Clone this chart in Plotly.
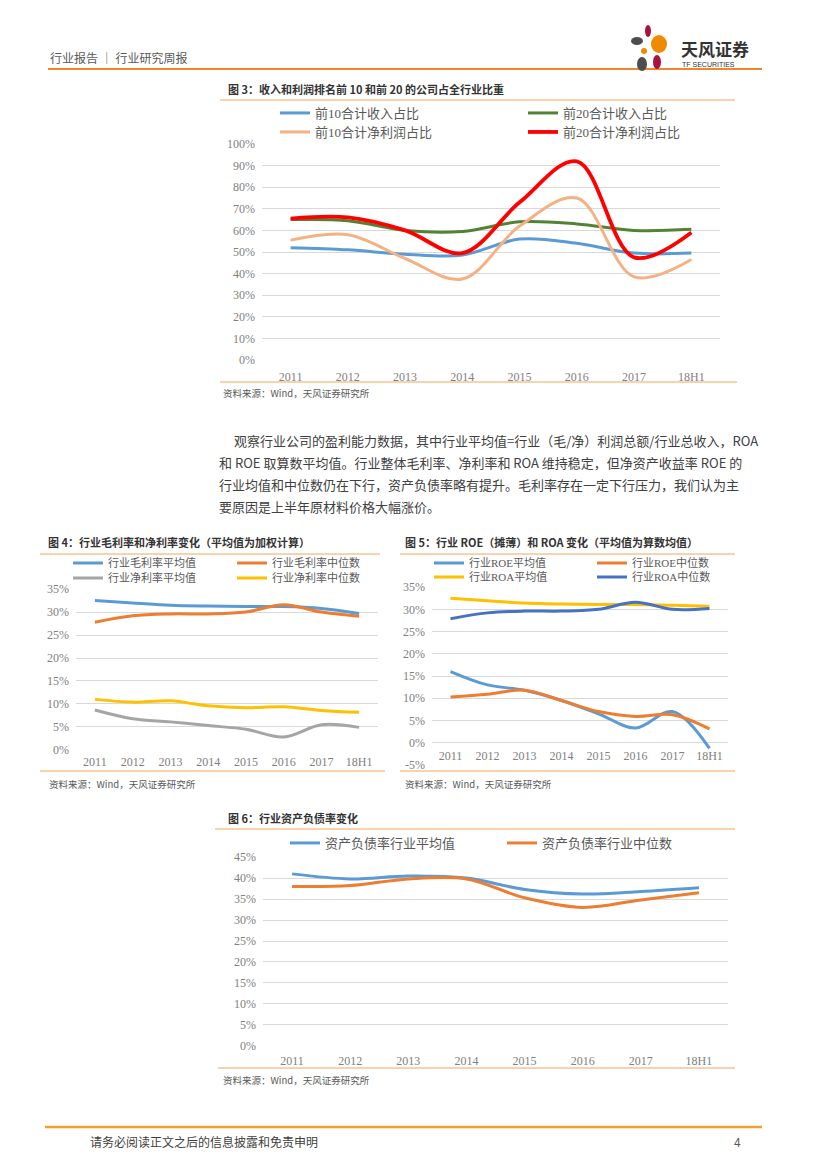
import plotly.graph_objects as go

W, H = 827, 1169
OFF = 8  # page body margin

years = ["2011", "2012", "2013", "2014", "2015", "2016", "2017", "18H1"]

# 图3
top10_rev = [52.0, 51.0, 49.0, 48.6, 56.0, 54.0, 49.5, 49.5]
top20_rev = [65.0, 64.5, 60.0, 59.5, 64.0, 63.0, 60.0, 60.5]
top10_np = [55.5, 58.0, 47.0, 37.5, 62.0, 75.0, 38.5, 46.5]
top20_np = [65.5, 66.0, 60.0, 49.5, 73.0, 92.0, 47.5, 59.0]

# 图4
gm_avg = [32.5, 32.0, 31.5, 31.3, 31.2, 31.2, 30.8, 29.7]
gm_med = [27.8, 29.2, 29.6, 29.6, 30.0, 31.6, 30.0, 29.1]
nm_avg = [8.7, 6.8, 6.1, 5.3, 4.5, 2.8, 5.5, 4.9]
nm_med = [11.0, 10.4, 10.7, 9.6, 9.2, 9.4, 8.6, 8.2]

# 图5
roe_avg = [16.0, 13.0, 11.8, 9.5, 6.5, 3.3, 7.0, -1.3]
roe_med = [10.3, 10.9, 11.8, 9.5, 7.0, 5.9, 6.3, 3.1]
roa_avg = [32.5, 31.9, 31.4, 31.2, 31.1, 31.1, 30.9, 30.7]
roa_med = [27.9, 29.2, 29.6, 29.6, 30.0, 31.6, 30.0, 30.2]

# 图6
debt_avg = [41.0, 39.8, 40.5, 40.0, 37.3, 36.2, 36.8, 37.7]
debt_med = [38.0, 38.2, 39.8, 39.8, 35.3, 33.0, 34.8, 36.5]

BLUE = "#5B9BD5"
GREEN = "#548235"
LORANGE = "#F4B183"
RED = "#FF0000"
ORANGE = "#ED7D31"
GRAY = "#A5A5A5"
YELLOW = "#FFC000"
DBLUE = "#4472C4"
RULE = "#F2A65A"

def px(x):
    return (x - OFF) / W

def py(y):
    return 1 - (y - OFF) / H

fig = go.Figure()

def add(y, name, color, ax, leg, width=3):
    fig.add_trace(go.Scatter(
        x=years, y=y, name=name, mode="lines",
        line=dict(color=color, width=width, shape="spline"),
        xaxis="x" + ax, yaxis="y" + ax, legend=leg, hoverinfo="skip"))

add(top10_rev, "前10合计收入占比", BLUE, "", "legend")
add(top20_rev, "前20合计收入占比", GREEN, "", "legend")
add(top10_np, "前10合计净利润占比", LORANGE, "", "legend2")
add(top20_np, "前20合计净利润占比", RED, "", "legend2", width=3.8)

add(gm_avg, "行业毛利率平均值", BLUE, "2", "legend3")
add(gm_med, "行业毛利率中位数", ORANGE, "2", "legend3")
add(nm_avg, "行业净利率平均值", GRAY, "2", "legend4")
add(nm_med, "行业净利率中位数", YELLOW, "2", "legend4")

add(roe_avg, "行业ROE平均值", BLUE, "3", "legend5")
add(roe_med, "行业ROE中位数", ORANGE, "3", "legend5")
add(roa_avg, "行业ROA平均值", YELLOW, "3", "legend6")
add(roa_med, "行业ROA中位数", DBLUE, "3", "legend6")

add(debt_avg, "资产负债率行业平均值", BLUE, "4", "legend7")
add(debt_med, "资产负债率行业中位数", ORANGE, "4", "legend7")

TICKFONT = dict(family="Liberation Serif, Noto Sans CJK SC", size=12, color="#808080")
GRID = "#D9D9D9"

def xax(x0, x1, anchor, standoff, position=None):
    d = dict(domain=[px(x0), px(x1)], range=[-0.5, 7.5], type="category",
             showgrid=False, showline=False, zeroline=False, ticks="",
             tickfont=TICKFONT, ticklabelstandoff=standoff, fixedrange=True,
             automargin=False)
    if position is not None:
        d["anchor"] = "free"
        d["position"] = position
    else:
        d["anchor"] = anchor
    return d

def yax(y_bottom, y_top, lo, hi, step, anchor):
    vals = list(range(lo, hi + 1, step))
    return dict(domain=[py(y_bottom), py(y_top)], range=[lo - 0.02, hi + 0.02],
                tickvals=vals, ticktext=[f"{v}%" for v in vals],
                showgrid=True, gridcolor=GRID, gridwidth=1, zeroline=False,
                showline=False, ticks="", tickfont=TICKFONT,
                ticklabelstandoff=6, anchor=anchor, fixedrange=True,
                automargin=False)

layout = dict(
    template="none",
    width=W, height=H, margin=dict(l=0, r=0, t=0, b=0, pad=0, autoexpand=False),
    paper_bgcolor="white", plot_bgcolor="white",
    xaxis=xax(262, 720, "y", 8),
    yaxis=yax(360, 144, 0, 100, 10, "x"),
    xaxis2=xax(76, 378, "y2", 3),
    yaxis2=yax(750, 589, 0, 35, 5, "x2"),
    xaxis3=xax(432, 728, "y3", 4, position=py(743)),
    yaxis3=yax(765, 587, -5, 35, 5, "x3"),
    xaxis4=xax(263, 728, "y4", 6),
    yaxis4=yax(1046, 857, 0, 45, 5, "x4"),
)

def legend(x, y, ew, size):
    return dict(orientation="h", x=px(x), y=py(y), xanchor="left", yanchor="middle",
                entrywidth=ew, entrywidthmode="pixels", bgcolor="rgba(0,0,0,0)",
                borderwidth=0,
                font=dict(family="Liberation Serif, Noto Sans CJK SC", size=size, color="#595959"),
                itemwidth=30, tracegroupgap=0, traceorder="normal", itemclick=False,
                itemdoubleclick=False)

layout["legend"] = legend(275, 113, 203, 13)
layout["legend2"] = legend(275, 132, 203, 13)
layout["legend3"] = legend(68, 563, 119, 11)
layout["legend4"] = legend(68, 578, 119, 11)
layout["legend5"] = legend(429, 563, 118, 11)
layout["legend6"] = legend(429, 577, 118, 11)
layout["legend7"] = legend(285, 843, 172, 13)

fig.update_layout(**layout)

shapes = []
def hline(x0, x1, y, color, width):
    shapes.append(dict(type="line", xref="paper", yref="paper",
                       x0=px(x0), x1=px(x1), y0=py(y), y1=py(y),
                       line=dict(color=color, width=width)))

hline(48, 762, 69, "#F0852D", 2)
hline(45, 762, 1127, "#F0A030", 2.5)
hline(220, 735, 100, RULE, 1)
hline(220, 737, 382, RULE, 1)
hline(40, 380, 554, RULE, 1)
hline(40, 385, 771, RULE, 1)
hline(400, 735, 554, RULE, 1)
hline(400, 735, 771, RULE, 1)
hline(215, 735, 829, RULE, 1)
hline(218, 735, 1068, RULE, 1)

# logo petals
def blob(cx, cy, rx, ry, color):
    shapes.append(dict(type="circle", xref="paper", yref="paper",
                       x0=px(cx - rx), x1=px(cx + rx), y0=py(cy + ry), y1=py(cy - ry),
                       fillcolor=color, line=dict(width=0)))

blob(648, 31, 3, 6, "#A8123E")
blob(637, 41, 6, 4, "#4D4D4D")
blob(659, 44, 8, 9, "#F08A00")
blob(644, 51, 3, 3, "#F08A00")
blob(657, 62, 4, 7, "#A8123E")
blob(642, 64, 5, 7, "#4D4D4D")

fig.update_layout(shapes=shapes)

CJK = "Noto Sans CJK SC"
ann = []
def text(x, y, s, size, color, bold=False, family=CJK, xanchor="left"):
    ann.append(dict(x=px(x), y=py(y), xref="paper", yref="paper", text=f"<b>{s}</b>" if bold else s,
                    showarrow=False, xanchor=xanchor, yanchor="middle",
                    font=dict(family=family, size=size, color=color)))

text(48, 57, "行业报告 ｜ 行业研究周报", 12, "#595959")
text(679, 49, "天风证券", 17, "#333333", bold=True)
text(680, 64, "TF SECURITIES", 7, "#333333", family="Liberation Sans")

text(226, 89, "图 3：收入和利润排名前 10 和前 20 的公司占全行业比重", 11, "#333333", bold=True)
text(46, 542, "图 4：行业毛利率和净利率变化（平均值为加权计算）", 11, "#333333", bold=True)
text(403, 542, "图 5：行业 ROE（摊薄）和 ROA 变化（平均值为算数均值）", 11, "#333333", bold=True)
text(226, 818, "图 6：行业资产负债率变化", 11, "#333333", bold=True)

src = "资料来源：Wind，天风证券研究所"
text(221, 393, src, 9.5, "#595959")
text(47, 784, src, 9.5, "#595959")
text(403, 784, src, 9.5, "#595959")
text(221, 1080, src, 9.5, "#595959")

body = [
    (232, 440, "观察行业公司的盈利能力数据，其中行业平均值=行业（毛/净）利润总额/行业总收入，ROA"),
    (217, 462, "和 ROE 取算数平均值。行业整体毛利率、净利率和 ROA 维持稳定，但净资产收益率 ROE 的"),
    (217, 484, "行业均值和中位数仍在下行，资产负债率略有提升。毛利率存在一定下行压力，我们认为主"),
    (217, 506, "要原因是上半年原材料价格大幅涨价。"),
]
for x, y, s in body:
    text(x, y, s, 13, "#404040")

text(88, 1141, "请务必阅读正文之后的信息披露和免责申明", 12, "#404040")
text(737, 1141, "4", 12, "#595959", xanchor="center")

fig.update_layout(annotations=ann)

fig.write_html("out.html")
